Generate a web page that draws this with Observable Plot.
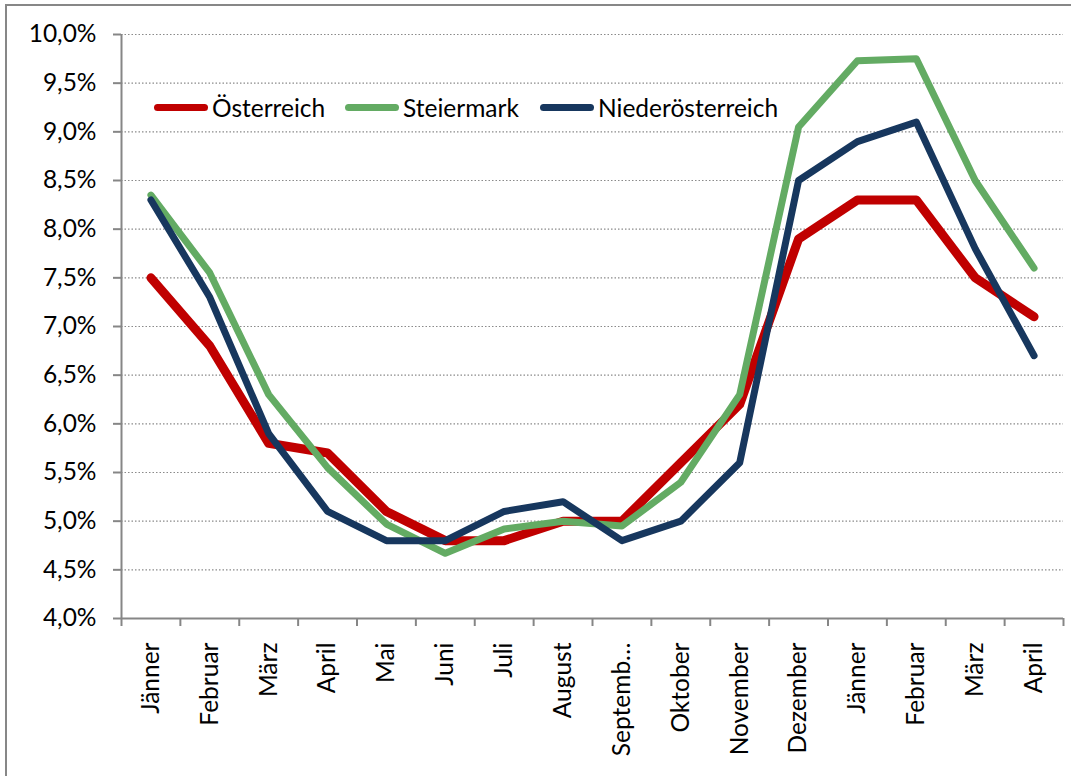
<!DOCTYPE html>
<html>
<head>
<meta charset="utf-8">
<script src="https://cdn.jsdelivr.net/npm/d3@7"></script>
<script src="https://cdn.jsdelivr.net/npm/@observablehq/plot@0.6"></script>
<style>
  body { margin: 0; background: #fff; }
  #wrap { position: relative; width: 1071px; height: 776px; overflow: hidden; font-family: Lato, sans-serif; }
  #frame { position: absolute; left: 5px; top: 4px; width: 1200px; height: 900px; border-left: 2px solid #878787; border-top: 2px solid #878787; pointer-events: none; }
  #chart { position: absolute; left: 0; top: 0; }
  .leg { position: absolute; top: 93px; height: 28px; display: flex; align-items: center; font-size: 24.5px; color: #000; white-space: nowrap; }
  .leg .sw { width: 54px; height: 7px; border-radius: 4px; margin-right: 4px; }
</style>
</head>
<body>
<div id="wrap">
  <div id="chart"></div>
  <div id="frame"></div>
  <div id="legend"></div>
</div>
<script>
const months = ["Jänner","Februar","März","April","Mai","Juni","Juli","August","Septemb…","Oktober","November","Dezember","Jänner","Februar","März","April"];
const oesterreich = [7.5, 6.8, 5.8, 5.7, 5.1, 4.8, 4.8, 5.0, 5.0, 5.6, 6.2, 7.9, 8.3, 8.3, 7.5, 7.1];
const steiermark = [8.35, 7.55, 6.3, 5.55, 4.97, 4.67, 4.92, 5.0, 4.95, 5.4, 6.3, 9.05, 9.73, 9.75, 8.5, 7.6];
const niederoesterreich = [8.3, 7.3, 5.9, 5.1, 4.8, 4.8, 5.1, 5.2, 4.8, 5.0, 5.6, 8.5, 8.9, 9.1, 7.8, 6.7];
const seriesNames = ["Österreich", "Steiermark", "Niederösterreich"];
const seriesColors = ["#C00000", "#63AB63", "#17375E"];
const seriesWidths = [9, 7, 7];
const yTicks = [4, 4.5, 5, 5.5, 6, 6.5, 7, 7.5, 8, 8.5, 9, 9.5, 10];

const seriesValues = [oesterreich, steiermark, niederoesterreich];
const rows = seriesValues.flatMap((vals, s) => vals.map((v, i) => ({series: seriesNames[s], idx: i + 0.5, value: v})));
const fmt = d => d.toFixed(1).replace(".", ",") + "%";
const axisGray = "#868686";

const lineMarks = seriesNames.map((name, s) =>
  Plot.line(rows.filter(r => r.series === name), {
    x: "idx", y: "value", stroke: seriesColors[s], strokeWidth: seriesWidths[s],
    strokeLinejoin: "round", strokeLinecap: "round"
  })
);

const chart = Plot.plot({
  width: 1071,
  height: 776,
  marginLeft: 121,
  marginRight: 8,
  marginTop: 34,
  marginBottom: 158,
  style: { fontFamily: "Lato, sans-serif", fontSize: "24.5px", background: "transparent", overflow: "visible" },
  x: { domain: [0, 16], axis: null, label: null },
  y: { domain: [4, 10], axis: null, label: null },
  marks: [
    Plot.gridY(yTicks.filter(t => t > 4), { stroke: "#8a8a8a", strokeOpacity: 1, strokeWidth: 1.2, strokeDasharray: "1.5,2" }),
    Plot.axisY(yTicks, { label: null, tickSize: 8, tickPadding: 17, tickFormat: fmt, stroke: axisGray, strokeWidth: 2, fill: "#000", fontSize: 24.5 }),
    Plot.axisX(d3.range(17), { label: null, tickSize: 8, tickFormat: () => "", stroke: axisGray, strokeWidth: 2 }),
    Plot.axisX(d3.range(16).map(i => i + 0.5), { label: null, tickSize: 0, tickPadding: 24, tickRotate: -90, tickFormat: d => months[Math.floor(d)], fill: "#000", fontSize: 24.5 }),
    Plot.ruleX([0], { stroke: axisGray, strokeWidth: 2 }),
    Plot.ruleY([4], { stroke: axisGray, strokeWidth: 2 }),
    ...lineMarks
  ]
});
document.getElementById("chart").append(chart);

const legendLefts = [154, 345, 540];
const legend = document.getElementById("legend");
seriesNames.forEach((name, s) => {
  const item = document.createElement("div");
  item.className = "leg";
  item.style.left = legendLefts[s] + "px";
  const sw = document.createElement("span");
  sw.className = "sw";
  sw.style.background = seriesColors[s];
  const label = document.createElement("span");
  label.textContent = name;
  item.append(sw, label);
  legend.append(item);
});
</script>
</body>
</html>
